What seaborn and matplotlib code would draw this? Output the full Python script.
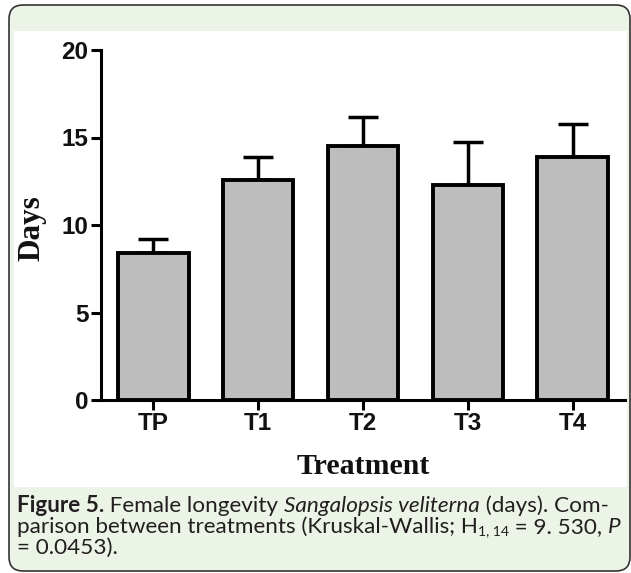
import matplotlib
matplotlib.use("Agg")
import matplotlib.pyplot as plt
import seaborn as sns
import numpy as np
import pandas as pd
from matplotlib.patches import FancyBboxPatch, Rectangle

# ---- data ----
treatments = ["TP", "T1", "T2", "T3", "T4"]
mean_days = [8.4, 12.55, 14.5, 12.3, 13.9]
err_days = [0.8, 1.35, 1.65, 2.45, 1.9]
yticks = [0, 5, 10, 15, 20]

W, H = 631, 573
sns.set_theme(style="white")
plt.rcParams['font.family'] = ['DejaVu Sans']

fig = plt.figure(figsize=(W / 100, H / 100), dpi=100)
fig.patch.set_facecolor('white')

GREEN = '#ecf3e7'
# outer rounded frame (pixel -> inches)
frame = FancyBboxPatch((0.09, (H - 571) / 100), 6.21, (571 - 5) / 100,
                       boxstyle="round,pad=0,rounding_size=0.14",
                       transform=fig.dpi_scale_trans, facecolor=GREEN,
                       edgecolor='#333333', linewidth=1.2, zorder=-3)
fig.patches.append(frame)
panel = Rectangle((0.14, (H - 487) / 100), 6.13, (487 - 31) / 100,
                  transform=fig.dpi_scale_trans, facecolor='white',
                  edgecolor='none', zorder=-2)
fig.patches.append(panel)

ax = fig.add_axes([101 / W, (H - 400) / H, 524 / W, 350 / H])
ax.set_facecolor('none')

df = pd.DataFrame({"Treatment": treatments, "Days": mean_days})
sns.barplot(data=df, x="Treatment", y="Days", color='#bdbdbd', saturation=1,
            edgecolor='black', linewidth=2.8, width=0.67, errorbar=None, ax=ax,
            zorder=3)
ax.errorbar(np.arange(len(treatments)), mean_days,
            yerr=[np.zeros(len(err_days)), err_days], fmt='none',
            ecolor='black', elinewidth=2.5, capsize=10.5, capthick=2.5, zorder=2)

ax.set_xlim(-0.5, 4.5)
ax.set_ylim(0, 20)
ax.set_yticks(yticks)
sns.despine(ax=ax)
for s in ['left', 'bottom']:
    ax.spines[s].set_linewidth(2.2)
    ax.spines[s].set_color('black')
ax.tick_params(axis='both', which='major', direction='out', length=7, width=2.2,
               color='black', pad=2, bottom=True, left=True)
for lab in ax.get_xticklabels() + ax.get_yticklabels():
    lab.set_fontfamily('Liberation Sans')
    lab.set_fontweight('bold')
    lab.set_fontsize(17.5)
    lab.set_color('#111111')

ax.set_xlabel("Treatment", fontfamily='Liberation Serif', fontweight='bold',
              fontsize=21.5, color='#111111')
ax.xaxis.label.set_va('center')
ax.xaxis.set_label_coords(0.5, (400 - 467) / 350)
ax.set_ylabel("Days", fontfamily='Liberation Serif', fontweight='bold',
              fontsize=22.5, color='#111111')
ax.yaxis.label.set_va('center')
ax.yaxis.set_label_coords((32 - 101) / 524, (400 - 228) / 350)

# ---- caption ----
fig.canvas.draw()
renderer = fig.canvas.get_renderer()
CAPF = 'Lato'
CAPC = '#231f20'


def adv(s, size, **kw):
    t1 = fig.text(0, 0, "|" + s + "|", fontsize=size, fontfamily=CAPF, **kw)
    t2 = fig.text(0, 0, "||", fontsize=size, fontfamily=CAPF, **kw)
    w = t1.get_window_extent(renderer).width - t2.get_window_extent(renderer).width
    t1.remove(); t2.remove()
    return w


line1 = [("Figure 5.", dict(fontweight='bold')), (" Female longevity ", {}),
         ("Sangalopsis veliterna", dict(fontstyle='italic')), (" (days). Com-", {})]
line2 = [("parison between treatments (Kruskal-Wallis; H", {}),
         ("1, 14", dict(sub=True)), (" = 9. 530, ", {}), ("P", dict(fontstyle='italic'))]
line3 = [("= 0.0453).", {})]


def line_width(pieces, sz):
    return sum(adv(s, sz * (0.62 if kw.get('sub') else 1),
                   **{k: v for k, v in kw.items() if k != 'sub'}) for s, kw in pieces)


base = 10.0
size = base * 0.5 * (598 / line_width(line1, base) + 595 / line_width(line2, base))


def place(pieces, x0, baseline):
    x = x0
    for s, kw in pieces:
        kw = dict(kw)
        sub = kw.pop('sub', False)
        sz = size * (0.62 if sub else 1)
        y = baseline + (2 if sub else 0)
        fig.text(x / W, (H - y) / H, s, fontsize=sz, fontfamily=CAPF,
                 va='baseline', ha='left', color=CAPC, **kw)
        x += adv(s, sz, **kw)


place(line1, 17, 512)
place(line2, 17, 533)
place(line3, 17, 554)

fig.savefig("out.png", dpi=100, facecolor=fig.get_facecolor())
